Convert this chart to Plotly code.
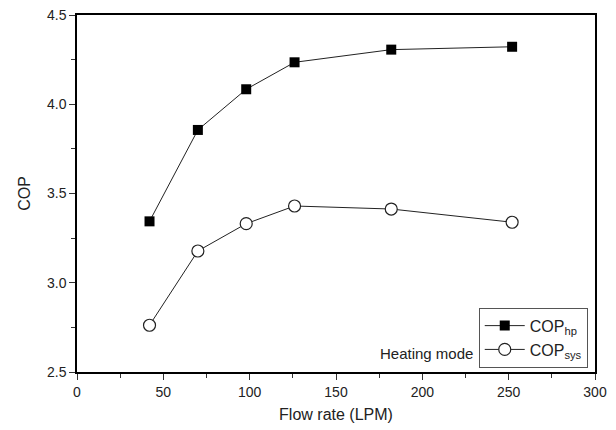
import plotly.graph_objects as go

flow_rate = [42, 70, 98, 126, 182, 252]
cop_hp = [3.344, 3.856, 4.084, 4.235, 4.306, 4.322]
cop_sys = [2.762, 3.178, 3.331, 3.430, 3.413, 3.339]

FONT = "Liberation Sans, Arial, sans-serif"

fig = go.Figure()
fig.add_trace(go.Scatter(
    x=flow_rate, y=cop_hp, mode="lines+markers",
    name="COP<sub>hp</sub>",
    line=dict(color="#222222", width=1),
    marker=dict(symbol="square", size=10, color="black", line=dict(width=0)),
))
fig.add_trace(go.Scatter(
    x=flow_rate, y=cop_sys, mode="lines+markers",
    name="COP<sub>sys</sub>",
    line=dict(color="#222222", width=1),
    marker=dict(symbol="circle", size=12, color="white", line=dict(color="#222222", width=1.2)),
))

axis_common = dict(
    showline=True, linecolor="black", linewidth=1.5, mirror=True,
    ticks="outside", ticklen=6, tickwidth=1.2, tickcolor="#333333",
    showgrid=False, zeroline=False, automargin=False,
    tickfont=dict(family=FONT, size=14, color="#222222"),
)

fig.update_layout(
    width=616, height=430,
    paper_bgcolor="white", plot_bgcolor="white",
    margin=dict(l=77, r=21, t=15, b=58),
    font=dict(family=FONT, color="#222222"),
    xaxis=dict(
        range=[0, 300], tickvals=[0, 50, 100, 150, 200, 250, 300],
        minor=dict(tickvals=[25, 75, 125, 175, 225, 275], ticks="outside", ticklen=4, tickwidth=1, tickcolor="#333333"),
        title=dict(text="Flow rate (LPM)", font=dict(family=FONT, size=16, color="#222222"), standoff=10),
        **axis_common,
    ),
    yaxis=dict(
        range=[2.5, 4.5], tickvals=[2.5, 3.0, 3.5, 4.0, 4.5], tickformat=".1f",
        minor=dict(tickvals=[2.75, 3.25, 3.75, 4.25], ticks="outside", ticklen=4, tickwidth=1, tickcolor="#333333"),
        title=dict(text="COP", font=dict(family=FONT, size=16, color="#222222"), standoff=12),
        **axis_common,
    ),
    legend=dict(
        x=0.986, y=0.012, xanchor="right", yanchor="bottom",
        bordercolor="#555555", borderwidth=1, bgcolor="white",
        font=dict(family=FONT, size=16, color="#222222"),
        tracegroupgap=0, itemwidth=40,
    ),
    showlegend=True,
)

fig.add_annotation(
    xref="paper", yref="paper", x=0.768, y=0.052,
    xanchor="right", yanchor="middle",
    text="Heating mode", showarrow=False,
    font=dict(family=FONT, size=15, color="#222222"),
)

fig.write_html(
    "out.html",
    config={"displayModeBar": False},
    post_script="document.body.style.margin='0';document.body.style.overflow='hidden';",
)
